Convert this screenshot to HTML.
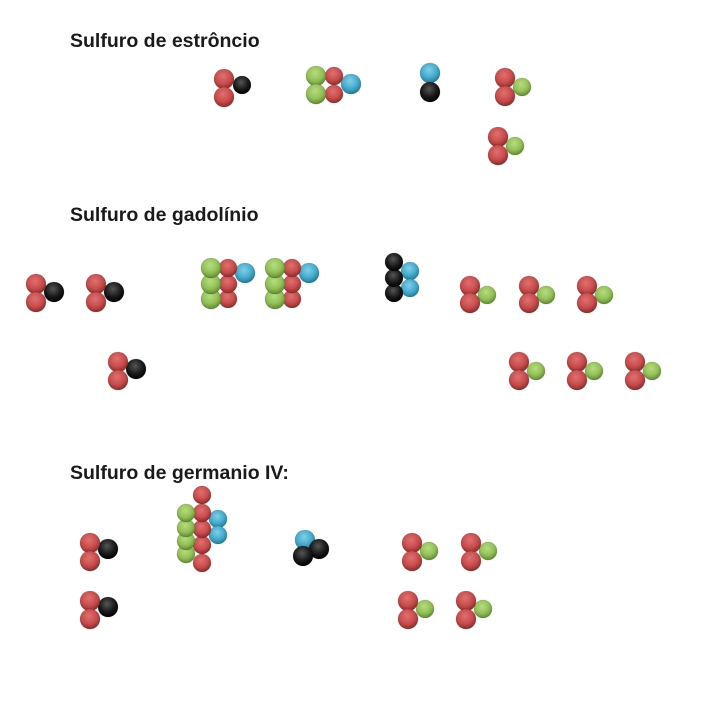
<!DOCTYPE html>
<html><head><meta charset="utf-8"><style>
html,body{margin:0;padding:0;background:#fff;width:719px;height:704px;overflow:hidden}
svg{position:absolute;left:0;top:0}
text{font-family:"Liberation Sans",sans-serif;font-weight:bold;font-size:19.5px;fill:#1a1a1a}
</style></head><body>
<svg width="719" height="704" viewBox="0 0 719 704">
<defs>
<radialGradient id="R" cx="45%" cy="35%" r="65%"><stop offset="0" stop-color="#e07070"/><stop offset="0.6" stop-color="#c84c4c"/><stop offset="1" stop-color="#8e2a2a"/></radialGradient>
<radialGradient id="G" cx="45%" cy="35%" r="65%"><stop offset="0" stop-color="#b8dc80"/><stop offset="0.6" stop-color="#92c056"/><stop offset="1" stop-color="#5f8a30"/></radialGradient>
<radialGradient id="B" cx="45%" cy="35%" r="65%"><stop offset="0" stop-color="#80d0e8"/><stop offset="0.6" stop-color="#44aacc"/><stop offset="1" stop-color="#227a99"/></radialGradient>
<radialGradient id="K" cx="45%" cy="35%" r="65%"><stop offset="0" stop-color="#555"/><stop offset="0.6" stop-color="#1a1a1a"/><stop offset="1" stop-color="#000"/></radialGradient>
</defs>
<text x="70" y="47">Sulfuro de estrôncio</text>
<text x="70" y="221">Sulfuro de gadolínio</text>
<text x="70" y="479">Sulfuro de germanio IV:</text>
<g stroke="rgba(0,0,0,0.15)" stroke-width="0.8">
<circle cx="242" cy="85" r="9" fill="url(#K)"/><circle cx="224" cy="79" r="10" fill="url(#R)"/><circle cx="224" cy="97" r="10" fill="url(#R)"/>
<circle cx="351" cy="84" r="10" fill="url(#B)"/><circle cx="334" cy="76" r="9" fill="url(#R)"/><circle cx="334" cy="94" r="9" fill="url(#R)"/><circle cx="316" cy="76" r="10" fill="url(#G)"/><circle cx="316" cy="94" r="10" fill="url(#G)"/>
<circle cx="430" cy="73" r="10" fill="url(#B)"/><circle cx="430" cy="92" r="10" fill="url(#K)"/>
<circle cx="522" cy="87" r="9" fill="url(#G)"/><circle cx="505" cy="78" r="10" fill="url(#R)"/><circle cx="505" cy="96" r="10" fill="url(#R)"/>
<circle cx="515" cy="146" r="9" fill="url(#G)"/><circle cx="498" cy="137" r="10" fill="url(#R)"/><circle cx="498" cy="155" r="10" fill="url(#R)"/>
<circle cx="54" cy="292" r="10" fill="url(#K)"/><circle cx="36" cy="284" r="10" fill="url(#R)"/><circle cx="36" cy="302" r="10" fill="url(#R)"/>
<circle cx="114" cy="292" r="10" fill="url(#K)"/><circle cx="96" cy="284" r="10" fill="url(#R)"/><circle cx="96" cy="302" r="10" fill="url(#R)"/>
<circle cx="136" cy="369" r="10" fill="url(#K)"/><circle cx="118" cy="362" r="10" fill="url(#R)"/><circle cx="118" cy="380" r="10" fill="url(#R)"/>
<circle cx="245" cy="273" r="10" fill="url(#B)"/><circle cx="228" cy="299" r="9" fill="url(#R)"/><circle cx="228" cy="284" r="9" fill="url(#R)"/><circle cx="228" cy="268" r="9" fill="url(#R)"/><circle cx="211" cy="299" r="10" fill="url(#G)"/><circle cx="211" cy="284" r="10" fill="url(#G)"/><circle cx="211" cy="268" r="10" fill="url(#G)"/>
<circle cx="309" cy="273" r="10" fill="url(#B)"/><circle cx="292" cy="299" r="9" fill="url(#R)"/><circle cx="292" cy="284" r="9" fill="url(#R)"/><circle cx="292" cy="268" r="9" fill="url(#R)"/><circle cx="275" cy="299" r="10" fill="url(#G)"/><circle cx="275" cy="284" r="10" fill="url(#G)"/><circle cx="275" cy="268" r="10" fill="url(#G)"/>
<circle cx="410" cy="271" r="9" fill="url(#B)"/><circle cx="410" cy="288" r="9" fill="url(#B)"/><circle cx="394" cy="293" r="9" fill="url(#K)"/><circle cx="394" cy="278" r="9" fill="url(#K)"/><circle cx="394" cy="262" r="9" fill="url(#K)"/>
<circle cx="487" cy="295" r="9" fill="url(#G)"/><circle cx="470" cy="286" r="10" fill="url(#R)"/><circle cx="470" cy="303" r="10" fill="url(#R)"/>
<circle cx="546" cy="295" r="9" fill="url(#G)"/><circle cx="529" cy="286" r="10" fill="url(#R)"/><circle cx="529" cy="303" r="10" fill="url(#R)"/>
<circle cx="604" cy="295" r="9" fill="url(#G)"/><circle cx="587" cy="286" r="10" fill="url(#R)"/><circle cx="587" cy="303" r="10" fill="url(#R)"/>
<circle cx="536" cy="371" r="9" fill="url(#G)"/><circle cx="519" cy="362" r="10" fill="url(#R)"/><circle cx="519" cy="380" r="10" fill="url(#R)"/>
<circle cx="594" cy="371" r="9" fill="url(#G)"/><circle cx="577" cy="362" r="10" fill="url(#R)"/><circle cx="577" cy="380" r="10" fill="url(#R)"/>
<circle cx="652" cy="371" r="9" fill="url(#G)"/><circle cx="635" cy="362" r="10" fill="url(#R)"/><circle cx="635" cy="380" r="10" fill="url(#R)"/>
<circle cx="108" cy="549" r="10" fill="url(#K)"/><circle cx="90" cy="543" r="10" fill="url(#R)"/><circle cx="90" cy="561" r="10" fill="url(#R)"/>
<circle cx="108" cy="607" r="10" fill="url(#K)"/><circle cx="90" cy="601" r="10" fill="url(#R)"/><circle cx="90" cy="619" r="10" fill="url(#R)"/>
<circle cx="218" cy="519" r="9" fill="url(#B)"/><circle cx="218" cy="535" r="9" fill="url(#B)"/>
<circle cx="202" cy="563" r="9" fill="url(#R)"/><circle cx="202" cy="545" r="9" fill="url(#R)"/><circle cx="202" cy="529" r="9" fill="url(#R)"/><circle cx="202" cy="513" r="9" fill="url(#R)"/><circle cx="202" cy="495" r="9" fill="url(#R)"/>
<circle cx="186" cy="554" r="9" fill="url(#G)"/><circle cx="186" cy="541" r="9" fill="url(#G)"/><circle cx="186" cy="528" r="9" fill="url(#G)"/><circle cx="186" cy="513" r="9" fill="url(#G)"/>
<circle cx="305" cy="540" r="10" fill="url(#B)"/><circle cx="319" cy="549" r="10" fill="url(#K)"/><circle cx="303" cy="556" r="10" fill="url(#K)"/>
<circle cx="429" cy="551" r="9" fill="url(#G)"/><circle cx="412" cy="543" r="10" fill="url(#R)"/><circle cx="412" cy="561" r="10" fill="url(#R)"/>
<circle cx="488" cy="551" r="9" fill="url(#G)"/><circle cx="471" cy="543" r="10" fill="url(#R)"/><circle cx="471" cy="561" r="10" fill="url(#R)"/>
<circle cx="425" cy="609" r="9" fill="url(#G)"/><circle cx="408" cy="601" r="10" fill="url(#R)"/><circle cx="408" cy="619" r="10" fill="url(#R)"/>
<circle cx="483" cy="609" r="9" fill="url(#G)"/><circle cx="466" cy="601" r="10" fill="url(#R)"/><circle cx="466" cy="619" r="10" fill="url(#R)"/>
</g>
</svg>
</body></html>
